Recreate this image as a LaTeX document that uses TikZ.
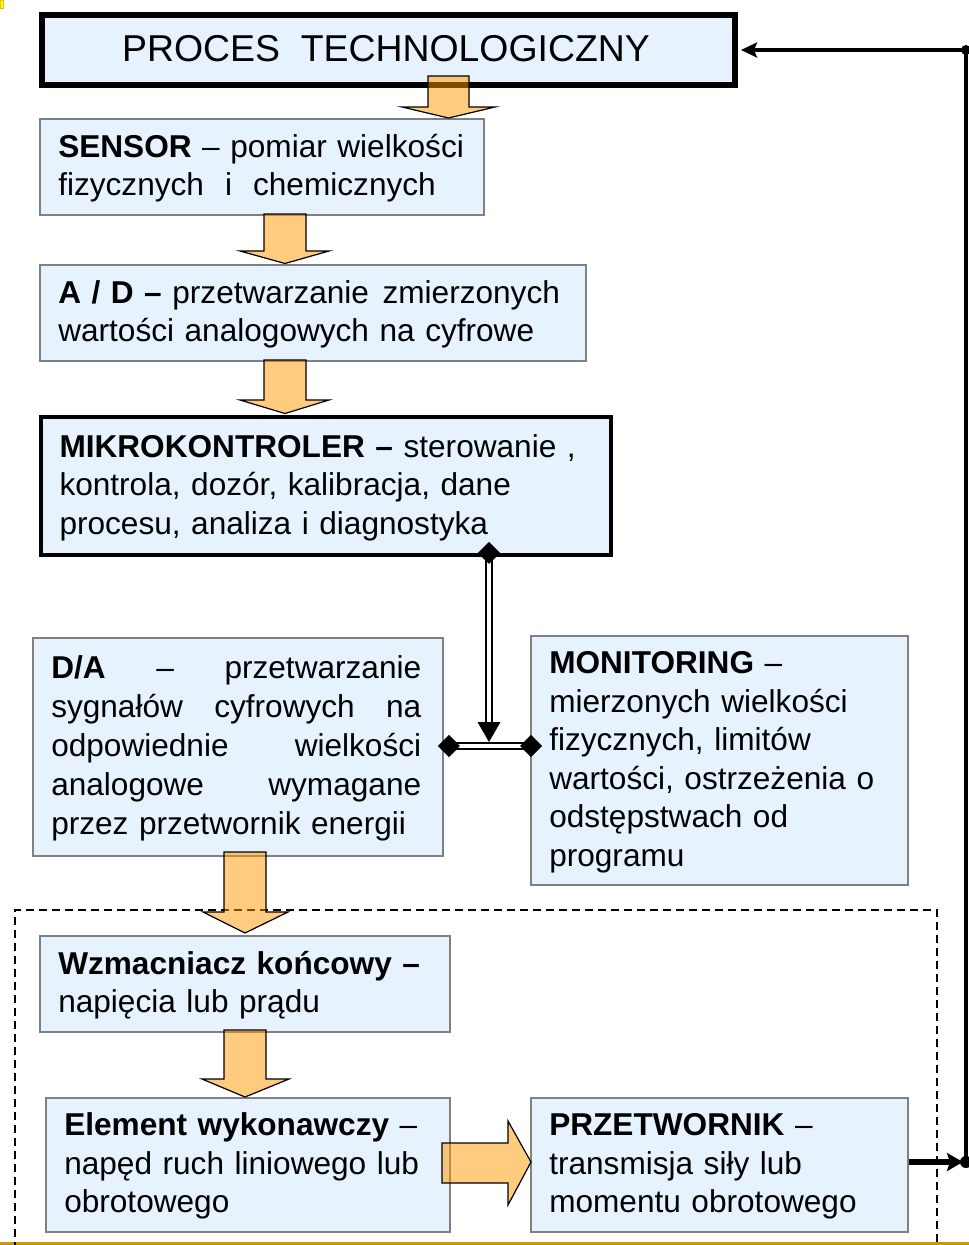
\documentclass[tikz,border=0pt]{standalone}
\usepackage{fontspec}
\setmainfont{Liberation Sans}
\usetikzlibrary{arrows.meta,shapes.geometric}

\definecolor{boxblue}{RGB}{230,243,255}
\definecolor{boxedge}{RGB}{128,128,128}
\definecolor{arroworange}{RGB}{255,153,0}
\definecolor{rulegold}{RGB}{204,153,0}
\definecolor{markyellow}{RGB}{255,255,0}
\definecolor{markedge}{RGB}{220,200,0}

\newcommand\bodyfont{\fontsize{31.6}{38.5}\selectfont}
\newcommand\titlefont{\fontsize{37.4}{44}\selectfont}
% text lines: first and last carry fixed struts so every panel centres alike
\newcommand\firstline[1]{\mbox{\rule{0pt}{28pt}#1}}
\newcommand\oneline[1]{\mbox{#1}}
\newcommand\lastline[1]{\mbox{\rule[-9pt]{0pt}{9pt}#1}}

\begin{document}
\begin{tikzpicture}[x=1pt,y=-1pt,
  panel/.style={draw=boxedge, line width=1.5pt, fill=boxblue, anchor=north west,
    inner xsep=18.5pt, inner ysep=0pt, align=left, font=\bodyfont},
  keypanel/.style={panel, draw=black},
  blockarrow/.style={draw=black, line width=1.2pt, fill=arroworange, fill opacity=0.5,
    line join=miter},
  busline/.style={draw=black, line width=2pt, double=white, double distance=3.5pt},
  busjoint/.style={diamond, fill=black, inner sep=0pt, minimum width=22pt, minimum height=22pt},
  feedback/.style={draw=black, line width=4.5pt},
  frame/.style={draw=black, line width=1.5pt, dash pattern=on 8pt off 5pt}
]
\useasboundingbox (0,0) rectangle (969,1245);

% small corner mark and the golden rule at the foot
\draw[fill=markyellow, draw=markedge, line width=0.8pt] (0,0) rectangle (3.5,8);
\draw[rulegold, line width=3.5pt] (0,1243.5) -- (969,1243.5);

% dashed frame round the actuator chain
\draw[frame] (15,1250) -- (15,910) -- (937,910) -- (937,1250);

% process box
\node[keypanel, line width=6pt, align=center, inner xsep=0pt, font=\titlefont,
  text height=30pt, text depth=7pt,
  minimum width=693pt, minimum height=69.5pt] (proc) at (39,12)
  {PROCES\ \ TECHNOLOGICZNY\hspace{5pt}};

% signal chain
\node[panel, text width=407pt, minimum height=96pt] (sensor) at (39,118)
  {\firstline{\textbf{SENSOR} – pomiar wielkości}\\
   \lastline{fizycznych\ \ i\ \ chemicznych}};

\node[panel, text width=509pt, minimum height=96pt] (ad) at (39,264)
  {\firstline{\textbf{A / D –} przetwarzanie\ \hspace{3pt}zmierzonych}\\
   \lastline{wartości analogowych na cyfrowe}};

\node[keypanel, line width=4pt, text width=533pt, minimum height=138pt] (mikro) at (39,415)
  {\firstline{\textbf{MIKROKONTROLER –} sterowanie ,}\\
   \oneline{kontrola, dozór, kalibracja, dane}\\
   \lastline{procesu, analiza i diagnostyka}};

\node[panel, text width=373pt, minimum height=218pt,
  font=\fontsize{31.6}{39}\selectfont] (da) at (32,637)
  {\firstline{\makebox[370pt]{\textbf{D/A}\hfill–\hfill przetwarzanie}}\\
   \oneline{\makebox[370pt]{sygnałów\hfill cyfrowych\hfill na}}\\
   \oneline{\makebox[370pt]{odpowiednie\hfill wielkości}}\\
   \oneline{\makebox[370pt]{analogowe\hfill wymagane}}\\
   \lastline{przez przetwornik energii}};

\node[panel, text width=340pt, minimum height=249pt] (mon) at (530,635)
  {\firstline{\textbf{MONITORING} –}\\
   \oneline{mierzonych wielkości}\\
   \oneline{fizycznych, limitów}\\
   \oneline{wartości, ostrzeżenia o}\\
   \oneline{odstępstwach od}\\
   \lastline{programu}};

\node[panel, text width=373pt, minimum height=96pt] (wzm) at (39,935)
  {\firstline{\textbf{Wzmacniacz końcowy –}}\\
   \lastline{napięcia lub prądu}};

\node[panel, text width=367pt, minimum height=134pt] (elem) at (45,1097)
  {\firstline{\textbf{Element wykonawczy} –}\\
   \oneline{napęd ruch liniowego lub}\\
   \lastline{obrotowego}};

\node[panel, text width=340pt, minimum height=134pt] (przet) at (530,1097)
  {\firstline{\textbf{PRZETWORNIK} –}\\
   \oneline{transmisja siły lub}\\
   \lastline{momentu obrotowego}};

% data bus from the microcontroller to D/A and monitoring
\node[busjoint] (jtop) at (489,553) {};
\node[busjoint] (jleft) at (449,746) {};
\node[busjoint] (jright) at (531,746) {};
\coordinate (jmid) at (489,742);
\draw[busline] (jleft.center) -- (jright.center);
\draw[busline, shorten >=20pt] (jtop.center) -- (jmid);
\fill[black] (477.5,722) -- (500.5,722) -- (jmid) -- cycle;
\node[busjoint] at (jtop) {};
\node[busjoint] at (jleft) {};
\node[busjoint] at (jright) {};

% feedback from the transducer to the process
\coordinate (fbB) at (966,1162);
\coordinate (fbT) at (966,50);
\draw[feedback, line width=5.5pt, -{Stealth[length=16pt,width=18pt,inset=3pt]}, shorten >=3pt]
  (przet.east |- fbB) -- (fbB);
\draw[feedback, line width=4pt] (fbB) -- (fbT);
\draw[feedback, -{Stealth[length=16pt,width=15pt,inset=3pt]}, shorten >=3pt]
  (fbT) -- (fbT -| proc.east);
\fill[black] (fbT) circle (5pt);
\fill[black] (fbB) circle (6pt);

% block arrows along the chain
\draw[blockarrow] (428,76) -- (469,76) -- (469,107) -- (495,107) -- (448.5,118)
  -- (402,107) -- (428,107) -- cycle;
\draw[blockarrow] (264,214) -- (306,214) -- (306,251) -- (329,251) -- (285,263.5)
  -- (240,251) -- (264,251) -- cycle;
\draw[blockarrow] (264,360) -- (306,360) -- (306,400) -- (329,400) -- (285,413.5)
  -- (240,400) -- (264,400) -- cycle;
\draw[blockarrow] (224,852) -- (266,852) -- (266,912) -- (288,912) -- (245,933)
  -- (203,912) -- (224,912) -- cycle;
\draw[blockarrow] (224,1030) -- (266,1030) -- (266,1079) -- (289,1079) -- (245,1097)
  -- (202,1079) -- (224,1079) -- cycle;
\draw[blockarrow] (442,1143) -- (508,1143) -- (508,1121) -- (531,1162) -- (508,1205)
  -- (508,1183) -- (442,1183) -- cycle;
\end{tikzpicture}
\end{document}
